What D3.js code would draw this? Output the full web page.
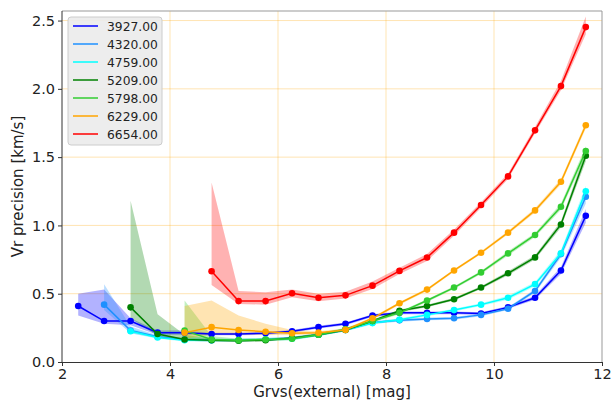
<!DOCTYPE html>
<html><head><meta charset="utf-8">
<script src="https://cdn.jsdelivr.net/npm/d3@7"></script>
<style>body{margin:0;background:#fff}svg{display:block}text{font-family:"DejaVu Sans",sans-serif}</style>
</head><body><svg id="c" width="612" height="401"></svg>
<script>
// Shared bin magnitudes
const xs = [2.3,2.78,3.27,3.77,4.27,4.77,5.27,5.77,6.26,6.75,7.25,7.75,8.25,8.76,9.26,9.76,10.26,10.76,11.24,11.7];
const seriesNames = ["3927.00","4320.00","4759.00","5209.00","5798.00","6229.00","6654.00"];
const seriesColors = ["#0000ff","#1e90ff","#00ffff","#008000","#32cd32","#ffa500","#ff0000"];
const seriesStart = [0,1,2,2,4,4,5];

const y3927 = [0.41,0.30,0.30,0.215,0.215,0.205,0.205,0.21,0.225,0.255,0.28,0.34,0.36,0.36,0.36,0.355,0.40,0.47,0.67,1.07];
const lo3927 = [0.34,0.28,0.27,0.20,0.20,0.195,0.195,0.20,0.215,0.245,0.27,0.33,0.35,0.35,0.35,0.345,0.39,0.455,0.645,1.02];
const hi3927 = [0.50,0.53,0.32,0.23,0.23,0.215,0.215,0.22,0.235,0.265,0.29,0.35,0.37,0.37,0.37,0.365,0.41,0.485,0.695,1.12];

const y4320 = [0.42,0.23,0.185,0.165,0.16,0.16,0.165,0.175,0.20,0.235,0.29,0.305,0.315,0.32,0.345,0.39,0.52,0.79,1.21];
const lo4320 = [0.38,0.21,0.175,0.155,0.15,0.15,0.155,0.165,0.19,0.225,0.28,0.295,0.305,0.31,0.335,0.38,0.505,0.765,1.16];
const hi4320 = [0.57,0.26,0.195,0.175,0.17,0.17,0.175,0.185,0.21,0.245,0.30,0.315,0.325,0.33,0.355,0.40,0.535,0.815,1.26];

const y4759 = [0.225,0.18,0.16,0.16,0.16,0.165,0.17,0.20,0.235,0.285,0.31,0.345,0.38,0.42,0.47,0.57,0.795,1.25];
const lo4759 = [0.21,0.17,0.15,0.15,0.15,0.155,0.16,0.19,0.225,0.275,0.30,0.335,0.37,0.41,0.455,0.555,0.77,1.21];
const hi4759 = [0.245,0.19,0.17,0.17,0.17,0.175,0.18,0.21,0.245,0.295,0.32,0.355,0.39,0.43,0.485,0.585,0.82,1.29];

const y5209 = [0.40,0.205,0.165,0.16,0.156,0.16,0.175,0.20,0.235,0.30,0.375,0.41,0.46,0.545,0.65,0.766,1.007,1.51];
const lo5209 = [0.32,0.19,0.155,0.15,0.146,0.15,0.165,0.19,0.225,0.29,0.365,0.40,0.45,0.535,0.635,0.75,0.985,1.47];
const hi5209 = [1.18,0.35,0.20,0.17,0.166,0.17,0.185,0.21,0.245,0.31,0.385,0.42,0.47,0.555,0.665,0.782,1.03,1.55];

const y5798 = [0.23,0.165,0.16,0.165,0.17,0.20,0.24,0.30,0.36,0.45,0.545,0.656,0.795,0.93,1.137,1.545];
const lo5798 = [0.17,0.155,0.15,0.155,0.16,0.19,0.23,0.29,0.35,0.44,0.535,0.645,0.78,0.915,1.115,1.51];
const hi5798 = [0.45,0.19,0.17,0.175,0.18,0.21,0.25,0.31,0.37,0.46,0.555,0.667,0.81,0.945,1.16,1.58];

const y6229 = [0.215,0.255,0.234,0.222,0.21,0.215,0.235,0.32,0.43,0.53,0.67,0.80,0.947,1.11,1.32,1.733];
const lo6229 = [0.17,0.20,0.20,0.20,0.195,0.205,0.225,0.31,0.42,0.52,0.66,0.79,0.935,1.095,1.30,1.71];
const hi6229 = [0.41,0.45,0.34,0.28,0.235,0.225,0.245,0.33,0.44,0.54,0.68,0.81,0.96,1.125,1.34,1.755];

const y6654 = [0.664,0.446,0.446,0.503,0.47,0.488,0.559,0.667,0.765,0.947,1.149,1.359,1.696,2.02,2.452];
const lo6654 = [0.564,0.425,0.42,0.475,0.445,0.465,0.535,0.645,0.74,0.925,1.13,1.34,1.675,1.99,2.40];
const hi6654 = [1.315,0.52,0.51,0.53,0.50,0.515,0.59,0.69,0.79,0.97,1.17,1.38,1.72,2.06,2.53];

const yVals = [y3927,y4320,y4759,y5209,y5798,y6229,y6654];
const loVals = [lo3927,lo4320,lo4759,lo5209,lo5798,lo6229,lo6654];
const hiVals = [hi3927,hi4320,hi4759,hi5209,hi5798,hi6229,hi6654];

const xTicks = [2,4,6,8,10,12];
const yTicks = [0,0.5,1.0,1.5,2.0,2.5];
const xLabel = "Grvs(external) [mag]";
const yLabel = "Vr precision [km/s]";

const L=62,R=602,T=11,B=362;
const svg = d3.select("#c");
const x = d3.scaleLinear().domain([2,12]).range([L,R]);
const y = d3.scaleLinear().domain([0,2.57]).range([B,T]);

// grid
const g = svg.append("g");
g.selectAll(".gx").data(xTicks.slice(1,-1)).enter().append("line")
 .attr("x1",d=>x(d)).attr("x2",d=>x(d)).attr("y1",T).attr("y2",B)
 .attr("stroke","#ffa500").attr("stroke-opacity",0.3).attr("stroke-width",1);
g.selectAll(".gy").data(yTicks.slice(1)).enter().append("line")
 .attr("y1",d=>y(d)).attr("y2",d=>y(d)).attr("x1",L).attr("x2",R)
 .attr("stroke","#ffa500").attr("stroke-opacity",0.3).attr("stroke-width",1);

const clip = svg.append("defs").append("clipPath").attr("id","clp").append("rect")
 .attr("x",L).attr("y",T).attr("width",R-L).attr("height",B-T);
const plot = svg.append("g").attr("clip-path","url(#clp)");

seriesNames.forEach((nm,i)=>{
  const s = seriesStart[i];
  const pts = yVals[i].map((v,j)=>({x:xs[s+j],y:v,lo:loVals[i][j],hi:hiVals[i][j]}));
  plot.append("path").datum(pts)
   .attr("d",d3.area().x(d=>x(d.x)).y0(d=>y(d.lo)).y1(d=>y(d.hi)))
   .attr("fill",seriesColors[i]).attr("fill-opacity",0.3).attr("stroke","none");
});
seriesNames.forEach((nm,i)=>{
  const s = seriesStart[i];
  const pts = yVals[i].map((v,j)=>({x:xs[s+j],y:v}));
  const gg = plot.append("g");
  gg.append("path").datum(pts)
   .attr("d",d3.line().x(d=>x(d.x)).y(d=>y(d.y)))
   .attr("fill","none").attr("stroke",seriesColors[i]).attr("stroke-width",1.5);
  gg.selectAll("circle").data(pts).enter().append("circle")
   .attr("cx",d=>x(d.x)).attr("cy",d=>y(d.y)).attr("r",3.3).attr("fill",seriesColors[i]);
});

// spines
svg.append("line").attr("x1",L).attr("x2",R).attr("y1",T).attr("y2",T).attr("stroke","#999");
svg.append("line").attr("x1",R).attr("x2",R).attr("y1",T).attr("y2",B).attr("stroke","#999");

const ax = svg.append("g").attr("transform",`translate(0,${B})`)
 .call(d3.axisBottom(x).tickValues(xTicks).tickFormat(d3.format("d")).tickSizeOuter(0).tickSize(4).tickPadding(3));
const ay = svg.append("g").attr("transform",`translate(${L},0)`)
 .call(d3.axisLeft(y).tickValues(yTicks).tickFormat(d3.format(".1f")).tickSizeOuter(0).tickSize(4).tickPadding(3));
[ax,ay].forEach(a=>{
  a.select(".domain").attr("stroke","#333");
  a.selectAll(".tick line").attr("stroke","#333");
  a.selectAll("text").attr("font-size",14.5).attr("fill","#222").attr("font-family","DejaVu Sans");
});
ay.select(".domain").attr("d",`M0,${T}V${B}`);

svg.append("text").attr("x",(L+R)/2).attr("y",397).attr("text-anchor","middle")
 .attr("font-size",15).attr("fill","#222").text(xLabel);
svg.append("text").attr("transform",`translate(23,${(T+B)/2}) rotate(-90)`).attr("text-anchor","middle")
 .attr("font-size",15).attr("fill","#222").text(yLabel);

// legend
const lg = svg.append("g");
lg.append("rect").attr("x",68).attr("y",17).attr("width",94).attr("height",128).attr("rx",3)
 .attr("fill","#ebebeb").attr("fill-opacity",0.9).attr("stroke","#cccccc");
seriesNames.forEach((nm,i)=>{
  const yy = 26 + i*18;
  lg.append("line").attr("x1",73).attr("x2",98).attr("y1",yy).attr("y2",yy)
   .attr("stroke",seriesColors[i]).attr("stroke-width",1.5);
  lg.append("text").attr("x",107).attr("y",yy+4.5).attr("font-size",12.3).attr("fill","#222").text(nm);
});
</script></body></html>
